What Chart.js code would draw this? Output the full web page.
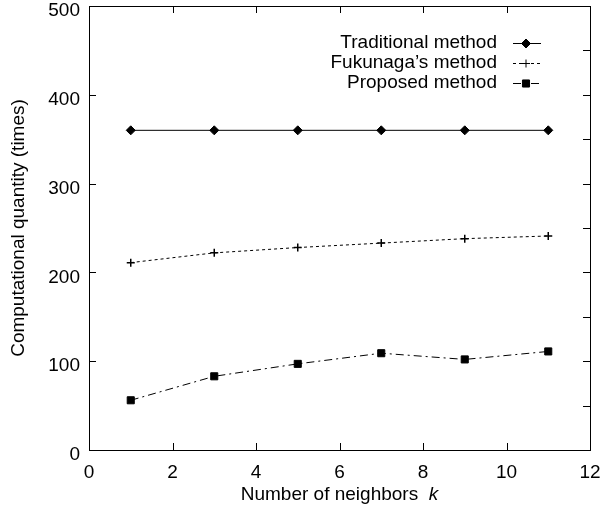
<!DOCTYPE html>
<html>
<head>
<meta charset="utf-8">
<script src="https://cdn.jsdelivr.net/npm/chart.js"></script>
<style>
  html, body { margin: 0; padding: 0; background: #fff; }
  #wrap { width: 600px; height: 515px; }
</style>
</head>
<body>
<div id="wrap"><canvas id="grafico" width="600" height="515"></canvas></div>
<script>
// dados
const vizinhos = [1, 3, 5, 7, 9, 11];
const tradicional = [360, 360, 360, 360, 360, 360];
const fukunaga = [211, 222, 228, 233, 238, 241];
const proposto = [56, 83, 97, 109, 102, 111];
const nomes = ["Traditional method", "Fukunaga\u2019s method", "Proposed method"];
const ticksX = [0, 2, 4, 6, 8, 10, 12];
const ticksY = [0, 100, 200, 300, 400, 500];

const FONTE = '"Liberation Sans", Arial, sans-serif';
const TAM = 19;

function pontos(ys) {
    return vizinhos.map((x, i) => ({ x: x, y: ys[i] }));
}

// Desenha moldura, ticks para dentro, títulos e legenda
const molduraPlugin = {
    id: "moldura",
    afterDraw(chart) {
        const ctx = chart.ctx;
        const a = chart.chartArea;
        const sx = chart.scales.x;
        const sy = chart.scales.y;
        const t = 7;
        ctx.save();
        ctx.strokeStyle = "#000";
        ctx.lineWidth = 1;
        ctx.setLineDash([]);
        ctx.strokeRect(Math.round(a.left) + 0.5, Math.round(a.top) + 0.5,
            Math.round(a.right - a.left), Math.round(a.bottom - a.top));
        ctx.beginPath();
        ticksX.slice(1, -1).forEach(v => {
            const px = Math.round(sx.getPixelForValue(v)) + 0.5;
            ctx.moveTo(px, a.bottom); ctx.lineTo(px, a.bottom - t);
            ctx.moveTo(px, a.top); ctx.lineTo(px, a.top + t);
        });
        for (let v = 50; v < 500; v += 50) {
            const py = Math.round(sy.getPixelForValue(v)) + 0.5;
            ctx.moveTo(a.right, py); ctx.lineTo(a.right - t, py);
            if (v % 100 === 0) {
                ctx.moveTo(a.left, py); ctx.lineTo(a.left + t, py);
            }
        }
        ctx.stroke();

        // títulos dos eixos
        ctx.fillStyle = "#000";
        ctx.textBaseline = "middle";
        const t1 = "Number of neighbors  ";
        ctx.font = TAM + "px " + FONTE;
        const w1 = ctx.measureText(t1).width;
        ctx.font = "italic " + TAM + "px " + FONTE;
        const w2 = ctx.measureText("k").width;
        const x0 = (a.left + a.right) / 2 - (w1 + w2) / 2;
        ctx.textAlign = "left";
        ctx.font = TAM + "px " + FONTE;
        ctx.fillText(t1, x0, 495);
        ctx.font = "italic " + TAM + "px " + FONTE;
        ctx.fillText("k", x0 + w1, 495);

        ctx.save();
        ctx.translate(19, (a.top + a.bottom) / 2);
        ctx.rotate(-Math.PI / 2);
        ctx.textAlign = "center";
        ctx.font = TAM + "px " + FONTE;
        ctx.fillText("Computational quantity (times)", 0, 0);
        ctx.restore();

        // legenda
        chart.data.datasets.forEach((ds, i) => {
            const y = 43 + i * 20;
            ctx.font = TAM + "px " + FONTE;
            ctx.textAlign = "right";
            ctx.textBaseline = "middle";
            ctx.fillStyle = "#000";
            ctx.fillText(ds.label, 497, y);
            ctx.beginPath();
            ctx.setLineDash(ds.borderDash || []);
            ctx.moveTo(513, y + 0.5);
            ctx.lineTo(541, y + 0.5);
            ctx.stroke();
            ctx.setLineDash([]);
            Chart.helpers.drawPoint(ctx, {
                pointStyle: ds.pointStyle,
                radius: ds.pointRadius,
                borderWidth: ds.pointBorderWidth || 1,
                rotation: 0
            }, 526, y + 0.5);
        });
        ctx.restore();
    }
};

const ctx = document.getElementById("grafico").getContext("2d");
new Chart(ctx, {
    type: "line",
    data: {
        datasets: [
            {
                label: nomes[0],
                data: pontos(tradicional),
                borderColor: "#000",
                backgroundColor: "#000",
                borderWidth: 1,
                pointStyle: "rectRot",
                pointRadius: 4.5,
                pointBorderWidth: 1,
            },
            {
                label: nomes[1],
                data: pontos(fukunaga),
                borderColor: "#000",
                backgroundColor: "#000",
                borderWidth: 1,
                borderDash: [3, 3],
                pointStyle: "cross",
                pointRadius: 4,
                pointBorderWidth: 1.5,
            },
            {
                label: nomes[2],
                data: pontos(proposto),
                borderColor: "#000",
                backgroundColor: "#000",
                borderWidth: 1,
                borderDash: [8, 4, 2, 4],
                pointStyle: "rect",
                pointRadius: 5,
                pointBorderWidth: 1,
            },
        ],
    },
    options: {
        responsive: false,
        animation: false,
        layout: { padding: 0 },
        plugins: {
            legend: { display: false },
            tooltip: { enabled: false },
        },
        scales: {
            x: {
                type: "linear",
                min: 0,
                max: 12,
                grid: { display: false, drawTicks: false },
                border: { display: false },
                afterBuildTicks(s) { s.ticks = ticksX.map(v => ({ value: v })); },
                afterFit(s) {
                    s.height = 65;
                    s.paddingLeft = 0;
                    s.paddingRight = 10;
                },
                ticks: {
                    color: "#000",
                    padding: 11,
                    font: { family: FONTE, size: TAM },
                },
            },
            y: {
                min: 0,
                max: 500,
                grid: { display: false, drawTicks: false },
                border: { display: false },
                afterBuildTicks(s) { s.ticks = ticksY.map(v => ({ value: v })); },
                afterFit(s) {
                    s.width = 89;
                    s.paddingTop = 4;
                    s.paddingBottom = 0;
                },
                ticks: {
                    color: "#000",
                    padding: 9,
                    labelOffset: 5,
                    font: { family: FONTE, size: TAM },
                },
            },
        },
    },
    plugins: [molduraPlugin],
});
</script>
</body>
</html>
